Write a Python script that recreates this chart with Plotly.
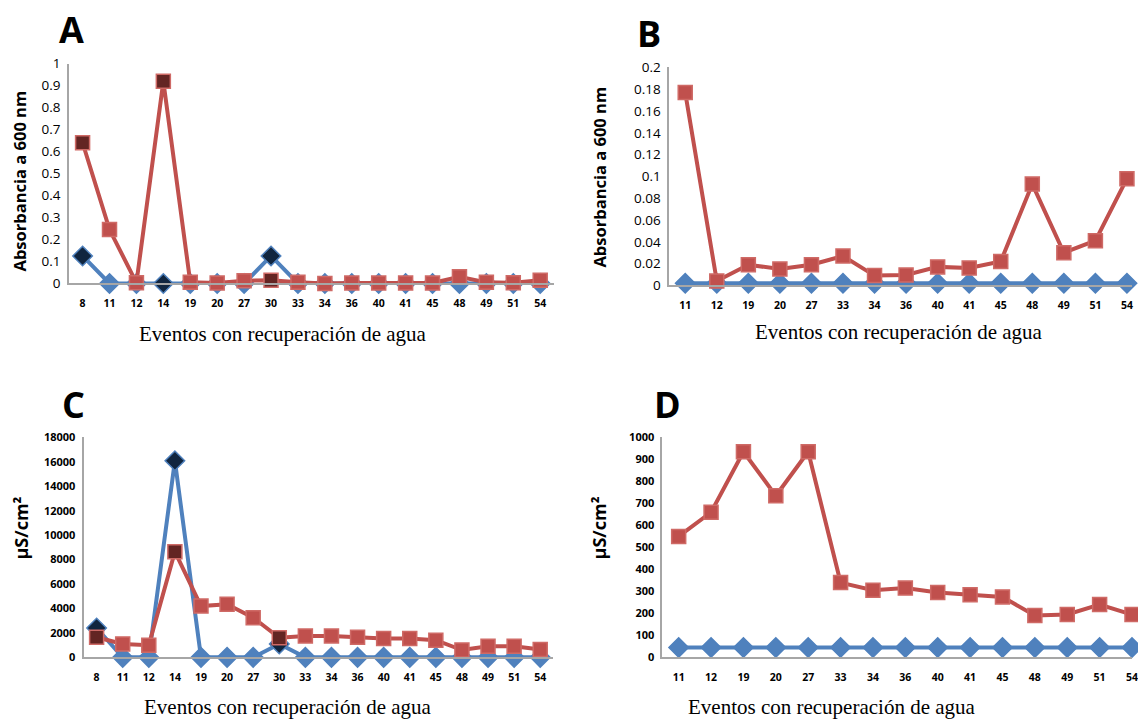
import plotly.graph_objects as go

W, H = 1138, 719

# ---------------- data ----------------
events_ac = ["8", "11", "12", "14", "19", "20", "27", "30", "33", "34", "36", "40", "41", "45", "48", "49", "51", "54"]
events_bd = ["11", "12", "19", "20", "27", "33", "34", "36", "40", "41", "45", "48", "49", "51", "54"]

a_blue = [0.125, 0.0, 0.0, 0.0, 0.0, 0.0, 0.0, 0.125, 0.0, 0.0, 0.0, 0.0, 0.0, 0.0, 0.0, 0.0, 0.0, 0.0]
a_red = [0.64, 0.245, 0.003, 0.92, 0.005, 0.002, 0.012, 0.015, 0.005, 0.0, 0.002, 0.002, 0.002, 0.002, 0.03, 0.005, 0.003, 0.015]

b_blue = [0.002] * 15
b_red = [0.177, 0.004, 0.019, 0.015, 0.019, 0.027, 0.009, 0.0095, 0.017, 0.016, 0.022, 0.093, 0.030, 0.041, 0.098]

c_blue = [2400, 0, 0, 16100, 0, 0, 0, 1100, 0, 0, 0, 0, 0, 0, 0, 0, 0, 0]
c_red = [1650, 1100, 1000, 8650, 4200, 4350, 3250, 1600, 1750, 1750, 1650, 1550, 1550, 1400, 600, 900, 900, 650]

d_blue = [45] * 15
d_red = [550, 660, 935, 735, 935, 340, 305, 315, 295, 285, 275, 190, 195, 240, 195]

highlighted = ["8", "14", "30"]  # events drawn with dark-filled markers in A and C

a_ticks = [0, 0.1, 0.2, 0.3, 0.4, 0.5, 0.6, 0.7, 0.8, 0.9, 1]
a_ticktext = ["0", "0.1", "0.2", "0.3", "0.4", "0.5", "0.6", "0.7", "0.8", "0.9", "1"]
b_ticks = [0, 0.02, 0.04, 0.06, 0.08, 0.1, 0.12, 0.14, 0.16, 0.18, 0.2]
b_ticktext = ["0", "0.02", "0.04", "0.06", "0.08", "0.1", "0.12", "0.14", "0.16", "0.18", "0.2"]
c_ticks = [0, 2000, 4000, 6000, 8000, 10000, 12000, 14000, 16000, 18000]
d_ticks = [0, 100, 200, 300, 400, 500, 600, 700, 800, 900, 1000]

x_title = "Eventos con recuperación de agua"
y_title_abs = "Absorbancia a 600 nm"
y_title_cond = "µS/cm²"

# ---------------- styles ----------------
BLUE = "#4F81BD"
RED = "#C0504D"
DARK_BLUE = "#10253F"
DARK_RED = "#632523"
AXIS = "#A6A6A6"


def px(x):
    return x / W


def py(y):
    return 1 - y / H


fig = go.Figure()


def add_panel(idx, cats, blue, red, hl):
    xa = "x" if idx == 1 else f"x{idx}"
    ya = "y" if idx == 1 else f"y{idx}"
    bfill = [DARK_BLUE if c in hl else BLUE for c in cats]
    rfill = [DARK_RED if c in hl else RED for c in cats]
    fig.add_trace(go.Scatter(
        x=cats, y=blue, xaxis=xa, yaxis=ya, mode="lines+markers",
        line=dict(color=BLUE, width=4), cliponaxis=False,
        marker=dict(symbol="diamond", size=15, color=bfill, line=dict(color=BLUE, width=1.5)),
        showlegend=False, hoverinfo="x+y"))
    fig.add_trace(go.Scatter(
        x=cats, y=red, xaxis=xa, yaxis=ya, mode="lines+markers",
        line=dict(color=RED, width=4), cliponaxis=False,
        marker=dict(symbol="square", size=14, color=rfill, line=dict(color="#CF6A66", width=1.5)),
        showlegend=False, hoverinfo="x+y"))


add_panel(1, events_ac, a_blue, a_red, highlighted)
add_panel(2, events_bd, b_blue, b_red, [])
add_panel(3, events_ac, c_blue, c_red, highlighted)
add_panel(4, events_bd, d_blue, d_red, [])

xtick_font = dict(family="Open Sans", size=10.5, color="black", weight="bold")


def xaxis(cats, x0, x1, yanchor, right):
    return dict(domain=[px(x0), px(x1)], anchor=yanchor, type="category",
                categoryorder="array", categoryarray=cats,
                range=[-0.5, right], showline=True, linecolor=AXIS, linewidth=2,
                showgrid=False, zeroline=False, ticks="", tickfont=xtick_font,
                ticklabelstandoff=9, fixedrange=True)


def yaxis(y0, y1, xanchor, rng, tv, tt, font):
    return dict(domain=[py(y0), py(y1)], anchor=xanchor, range=rng,
                tickvals=tv, ticktext=tt, showline=True, linecolor=AXIS, linewidth=2,
                showgrid=False, zeroline=False, ticks="", tickfont=font,
                ticklabelstandoff=4, fixedrange=True)


reg_font = dict(family="Open Sans", size=13.5, color="black")
bold_font = dict(family="Open Sans", size=11, color="black", weight="bold")

fig.update_layout(
    width=W, height=H, margin=dict(l=0, r=0, t=0, b=0),
    paper_bgcolor="white", plot_bgcolor="white", showlegend=False,
    xaxis=xaxis(events_ac, 69.5, 556.6, "y", 17.5),
    yaxis=yaxis(281.5, 56, "x", [0, 1], a_ticks, a_ticktext, reg_font),
    xaxis2=xaxis(events_bd, 673, 1138, "y2", 14.16),
    yaxis2=yaxis(283.5, 60, "x2", [0, 0.2], b_ticks, b_ticktext, reg_font),
    xaxis3=xaxis(events_ac, 84, 556.2, "y3", 17.5),
    yaxis3=yaxis(665, 439.5, "x3", [0, 18000], c_ticks, [str(v) for v in c_ticks], bold_font),
    xaxis4=xaxis(events_bd, 666, 1138, "y4", 14.0),
    yaxis4=yaxis(665, 439.5, "x4", [0, 1000], d_ticks, [str(v) for v in d_ticks], bold_font),
)

annots = []
# panel letters
for letter, x, y in [("A", 72, 21), ("B", 652, 25), ("C", 74, 406), ("D", 671, 406)]:
    annots.append(dict(text=letter, x=px(x), y=py(y), xref="paper", yref="paper",
                       showarrow=False, xanchor="center", yanchor="middle",
                       font=dict(family="Open Sans", size=36, color="black", weight="bold")))
# x titles
for x, y in [(284, 333), (904, 331), (290, 716), (836, 716)]:
    annots.append(dict(text=x_title, x=px(x), y=py(y), xref="paper", yref="paper",
                       showarrow=False, xanchor="center", yanchor="middle",
                       font=dict(family="Liberation Serif", size=21, color="black")))
# y titles
for txt, x, y, sz in [(y_title_abs, 20, 176, 16.5), (y_title_abs, 603, 172, 16.5),
                      (y_title_cond, 21, 532, 18), (y_title_cond, 602, 532, 18)]:
    annots.append(dict(text=txt, x=px(x), y=py(y), xref="paper", yref="paper",
                       showarrow=False, xanchor="center", yanchor="middle", textangle=-90,
                       font=dict(family="Open Sans", size=sz, color="black", weight="bold")))
fig.update_layout(annotations=annots)

fig.write_html("out.html")
